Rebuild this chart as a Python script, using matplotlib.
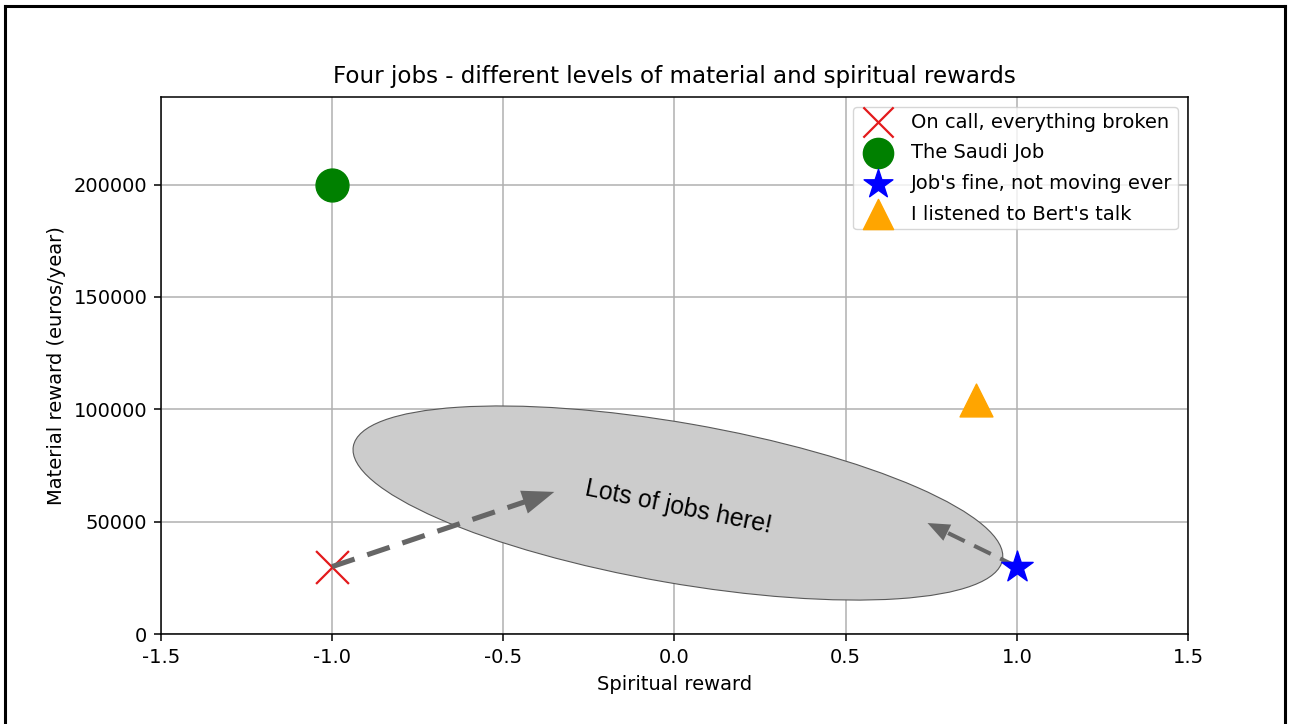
"""Four jobs scatter chart with hand-drawn style annotation"""

import numpy as np
import matplotlib
matplotlib.use("Agg")
import matplotlib.pyplot as plt
from matplotlib import font_manager
from matplotlib.patches import Ellipse
from matplotlib.transforms import ScaledTranslation
from matplotlib.lines import Line2D

# Job data
job_names = [
    "On call, everything broken",
    "The Saudi Job",
    "Job's fine, not moving ever",
    "I listened to Bert's talk",
]
spiritual = [-1.0, -1.0, 1.0, 0.88]
material = [30000, 200000, 30000, 104000]
markers = ["x", "o", "*", "^"]
colors = ["#e31a1c", "green", "blue", "orange"]

x_ticks = [-1.5, -1.0, -0.5, 0.0, 0.5, 1.0, 1.5]
y_ticks = [0, 50000, 100000, 150000, 200000]

# annotation: ellipse centre and arrow tips (data units)
blob_center = (0.01, 58300)
arrow_tips = [(-0.351, 63250), (0.739, 49400)]

FS = 14
ARROW_GREY = "#666666"

fig = plt.figure(figsize=(12.93, 7.24), dpi=100)
ax = fig.add_axes([0.1245, 0.1243, 0.7943, 0.7417])

for name, x, y, m, c in zip(job_names, spiritual, material, markers, colors):
    if m == "x":
        ax.scatter(x, y, marker=m, s=560, color=c, linewidths=1.6, label=name, zorder=3)
    else:
        ax.scatter(x, y, marker=m, s=560, color=c, label=name, zorder=6)

ax.set_xlim(-1.5, 1.5)
ax.set_ylim(0, 239000)
ax.set_xticks(x_ticks)
ax.set_xticklabels([f"{t:.1f}" for t in x_ticks])
ax.set_yticks(y_ticks)
ax.tick_params(labelsize=FS, width=1.1, length=4.9, pad=4.9)
for sp in ax.spines.values():
    sp.set_linewidth(1.1)
ax.grid(True, color="#b0b0b0", linewidth=1.1)
ax.set_axisbelow(True)

ax.set_title("Four jobs - different levels of material and spiritual rewards",
             fontsize=16.6, pad=10)
ax.set_xlabel("Spiritual reward", fontsize=FS, labelpad=6)
ax.set_ylabel("Material reward (euros/year)", fontsize=FS, labelpad=5.6)

leg = ax.legend(loc="upper right", fontsize=FS, handletextpad=0.7,
                borderpad=0.3, labelspacing=0.6, borderaxespad=0.5,
                markerscale=0.92, framealpha=0.8)
leg.set_zorder(10)

# grey blob drawn in screen size, anchored at a data point
blob = Ellipse((0, 0), 6.59, 1.60, angle=-9.9,
               transform=fig.dpi_scale_trans
               + ScaledTranslation(blob_center[0], blob_center[1], ax.transData),
               facecolor="#cccccc", edgecolor="#595959", linewidth=0.8, zorder=4)
ax.add_patch(blob)

# narrow sans if present, otherwise regular
try:
    font_manager.findfont("Liberation Sans Narrow", fallback_to_default=False)
    blob_font, blob_size = "Liberation Sans Narrow", 21
except ValueError:
    blob_font, blob_size = "Liberation Sans", 17.8

ax.text(blob_center[0], blob_center[1] - 1800, "Lots of jobs here!",
        family=blob_font, fontsize=blob_size, rotation=-11.5,
        ha="center", va="center", rotation_mode="anchor", zorder=5)

# dashed arrows: dashed shaft plus solid head
tails = [(spiritual[0], material[0]), (spiritual[2], material[2])]
styles = [(3.7, 32, 24), (2.9, 22, 18)]  # lw (pt), head length px, head width px
inv = ax.transData.inverted()
for (tx, ty), (hx, hy), (lw, hl, hw) in zip(tails, arrow_tips, styles):
    p0 = ax.transData.transform((tx, ty))
    p1 = ax.transData.transform((hx, hy))
    d = p1 - p0
    u = d / np.hypot(*d)
    n = np.array([-u[1], u[0]])
    base = p1 - u * hl
    shaft_end = base + u * 2
    s0 = inv.transform(p0)
    s1 = inv.transform(shaft_end)
    ax.add_line(Line2D([s0[0], s1[0]], [s0[1], s1[1]], color=ARROW_GREY,
                       linewidth=lw, linestyle=(0, (4.6, 2.6)),
                       solid_capstyle="butt", dash_capstyle="butt", zorder=5))
    head = inv.transform(np.array([p1, base + n * hw / 2, base - n * hw / 2]))
    ax.fill(head[:, 0], head[:, 1], color=ARROW_GREY, zorder=5, lw=0)

# slide border (left, top, right)
for xs, ys in [([0.0042, 0.0042], [0.0, 0.9917]),
               ([0.0042, 0.9938], [0.9917, 0.9917]),
               ([0.9938, 0.9938], [0.0, 0.9917])]:
    fig.add_artist(Line2D(xs, ys, transform=fig.transFigure, color="black", linewidth=2.2))

fig.savefig("out.png", dpi=100)
